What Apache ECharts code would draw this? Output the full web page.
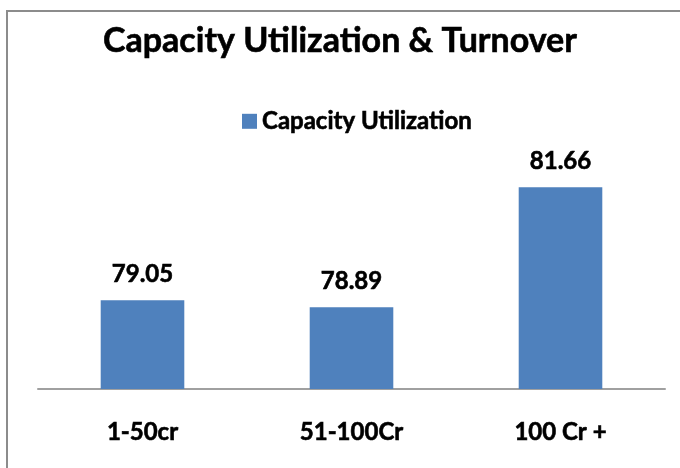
<!DOCTYPE html>
<html>
<head>
<meta charset="utf-8">
<script src="https://cdn.jsdelivr.net/npm/echarts@6/dist/echarts.min.js"></script>
<style>
  html, body { margin: 0; padding: 0; background: #fff; }
  #chart { width: 680px; height: 468px; }
</style>
</head>
<body>
<div id="chart"></div>
<script>
// chart data
const categories = ['1-50cr', '51-100Cr', '100 Cr +'];
const utilization = [79.05, 78.89, 81.66];
const seriesName = 'Capacity Utilization';

const font = 'Lato, "Open Sans", sans-serif';
// slight outline so the bold text looks as heavy as the original
const heavy = { textBorderColor: '#000', textBorderWidth: 0.6 };
const chart = echarts.init(document.getElementById('chart'));

chart.setOption({
  animation: false,
  backgroundColor: '#fff',
  title: {
    text: 'Capacity Utilization & Turnover',
    left: 'center',
    top: 19,
    textStyle: { fontFamily: font, fontSize: 34, fontWeight: 'bold', color: '#000', ...heavy },
  },
  legend: {
    data: [seriesName],
    top: 104,
    left: 237,
    icon: 'rect',
    itemWidth: 15,
    itemHeight: 15,
    itemGap: 6,
    textStyle: { fontFamily: font, fontSize: 24, fontWeight: 'bold', color: '#000', ...heavy },
  },
  grid: { left: 38, right: 15, top: 172.5, bottom: 79 },
  xAxis: {
    type: 'category',
    data: categories,
    axisLine: { lineStyle: { color: '#a0a0a0', width: 2 } },
    axisTick: { show: false },
    axisLabel: {
      margin: 31,
      fontFamily: font,
      fontSize: 24,
      fontWeight: 'bold',
      color: '#000',
      ...heavy,
    },
  },
  yAxis: {
    type: 'value',
    min: 77,
    max: 82,
    show: false,
    splitLine: { show: false },
  },
  series: [
    {
      name: seriesName,
      type: 'bar',
      data: utilization,
      barWidth: '40%',
      itemStyle: { color: '#4f81bd' },
      label: {
        show: true,
        position: 'top',
        distance: 14,
        fontFamily: font,
        fontSize: 24,
        fontWeight: 'bold',
        color: '#000',
        ...heavy,
        formatter: (p) => p.value.toFixed(2),
      },
    },
  ],
  graphic: [
    {
      type: 'rect',
      shape: { x: 7, y: 11, width: 700, height: 500 },
      style: { fill: 'none', stroke: '#8c8c8c', lineWidth: 2 },
      silent: true,
    },
  ],
});
</script>
</body>
</html>
